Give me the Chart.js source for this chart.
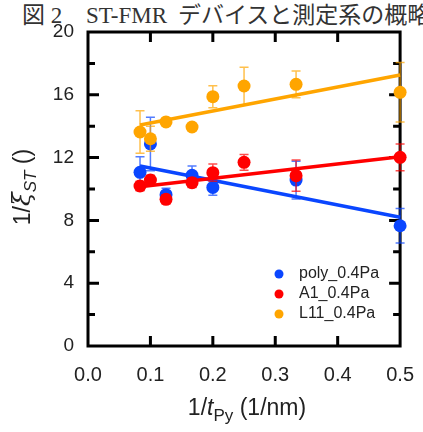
<!DOCTYPE html>
<html>
<head>
<meta charset="utf-8">
<script src="https://cdn.jsdelivr.net/npm/chart.js@4"></script>
<style>
  html, body { margin: 0; padding: 0; background: #fff; }
  #wrap { position: relative; width: 423px; height: 432px; overflow: hidden; }
  .cap {
    position: absolute; top: 3px; white-space: nowrap;
    font-family: "Liberation Serif", "Noto Sans CJK JP", serif;
    font-size: 23px; line-height: 26px; color: #333; z-index: 0;
  }
  canvas { position: absolute; left: 0; top: 0; z-index: 1; }
</style>
</head>
<body>
<div id="wrap">
  <span class="cap" style="left:22px">図 2</span>
  <span class="cap" style="left:86px">ST-FMR</span>
  <span class="cap" style="left:178px">デバイスと測定系の概略</span>
  <canvas id="chart" width="423" height="432"></canvas>
</div>
<script>
// データ
const polyX = [1/12, 0.1, 0.125, 1/6, 0.2, 1/3, 0.5];
const polyY = [11.06, 12.87, 9.64, 10.87, 10.1, 10.57, 7.66];
const polyErr = [1.0, 1.7, 0.4, 0.6, 0.5, 1.2, 1.1];

const a1X = [1/12, 0.1, 0.125, 1/6, 0.2, 0.25, 1/3, 0.5];
const a1Y = [10.19, 10.57, 9.34, 10.4, 11.04, 11.7, 10.85, 12.02];
const a1Err = [0.3, 0.3, 0.3, 0.3, 0.55, 0.5, 1.0, 0.85];

const l11X = [1/12, 0.1, 0.125, 1/6, 0.2, 0.25, 1/3, 0.5];
const l11Y = [13.63, 13.2, 14.27, 13.95, 15.88, 16.56, 16.67, 16.16];
const l11Err = [1.35, 0.8, 0.2, 0.2, 0.7, 1.2, 0.85, 1.9];

// フィット直線 (端点)
const fitX = [1/12, 0.5];
const polyFit = [11.46, 8.2];
const a1Fit = [10.15, 12.06];
const l11Fit = [14.08, 17.26];

const seriesNames = ["poly_0.4Pa", "A1_0.4Pa", "L11_0.4Pa"];
const seriesColors = ["#0a46ff", "#ff0000", "#ffa500"];

const xTicks = [0, 0.1, 0.2, 0.3, 0.4, 0.5];
const yTicks = [0, 4, 8, 12, 16, 20];
const yMinor = [2, 6, 10, 14, 18];

const toPts = (xs, ys) => xs.map((x, i) => ({ x: x, y: ys[i] }));

function pointSet(i, xs, ys, errs, order) {
  return {
    label: seriesNames[i],
    data: toPts(xs, ys),
    errors: errs,
    showLine: false,
    clip: false,
    pointRadius: 6.5,
    pointHoverRadius: 6.5,
    backgroundColor: seriesColors[i],
    borderColor: seriesColors[i],
    borderWidth: 0,
    order: order
  };
}

function fitSet(i, ys, order) {
  return {
    label: seriesNames[i] + " fit",
    data: toPts(fitX, ys),
    showLine: true,
    clip: false,
    pointRadius: 0,
    borderColor: seriesColors[i],
    borderWidth: 3.5,
    fill: false,
    order: order
  };
}

// エラーバー
const errorBars = {
  id: "errorBars",
  beforeDatasetDraw(chart, args) {
    const ds = chart.data.datasets[args.index];
    if (!ds.errors) return;
    const { ctx, scales: { x, y } } = chart;
    ctx.save();
    ctx.strokeStyle = ds.borderColor;
    ctx.globalAlpha = 0.7;
    ctx.lineWidth = 1.5;
    ds.data.forEach((p, i) => {
      const e = ds.errors[i];
      const px = x.getPixelForValue(p.x);
      const top = y.getPixelForValue(p.y + e);
      const bot = y.getPixelForValue(p.y - e);
      ctx.beginPath();
      ctx.moveTo(px, top); ctx.lineTo(px, bot);
      ctx.moveTo(px - 4.5, top); ctx.lineTo(px + 4.5, top);
      ctx.moveTo(px - 4.5, bot); ctx.lineTo(px + 4.5, bot);
      ctx.stroke();
    });
    ctx.restore();
  }
};

// 枠・内向き目盛り (データの下に描く)
const frame = {
  id: "frame",
  beforeDatasetsDraw(chart) {
    const { ctx, chartArea: a, scales: { x, y } } = chart;
    ctx.save();
    ctx.strokeStyle = "#000";
    ctx.lineWidth = 3;
    ctx.strokeRect(a.left, a.top, a.right - a.left, a.bottom - a.top);
    ctx.beginPath();
    xTicks.slice(1, -1).forEach(v => {
      const px = x.getPixelForValue(v);
      ctx.moveTo(px, a.bottom); ctx.lineTo(px, a.bottom - 10);
      ctx.moveTo(px, a.top); ctx.lineTo(px, a.top + 10);
    });
    yTicks.slice(1, -1).forEach(v => {
      const py = y.getPixelForValue(v);
      ctx.moveTo(a.left, py); ctx.lineTo(a.left + 11, py);
      ctx.moveTo(a.right, py); ctx.lineTo(a.right - 11, py);
    });
    yMinor.forEach(v => {
      const py = y.getPixelForValue(v);
      ctx.moveTo(a.left, py); ctx.lineTo(a.left + 7, py);
      ctx.moveTo(a.right, py); ctx.lineTo(a.right - 7, py);
    });
    ctx.stroke();
    ctx.restore();
  }
};

// 軸タイトル・凡例
const labels = {
  id: "labels",
  afterDraw(chart) {
    const ctx = chart.ctx;
    ctx.save();
    ctx.fillStyle = "#222";
    ctx.textBaseline = "alphabetic";
    ctx.textAlign = "left";
    const big = "23px Arial, 'Liberation Sans'";
    const bigI = "italic 23px Arial, 'Liberation Sans'";
    const sub = "17px Arial, 'Liberation Sans'";
    const subI = "italic 17px Arial, 'Liberation Sans'";
    const drawParts = (parts, cx, base) => {
      let w = 0;
      parts.forEach(p => { ctx.font = p[1]; w += ctx.measureText(p[0]).width; });
      let px = cx - w / 2;
      parts.forEach(p => {
        ctx.font = p[1];
        ctx.fillText(p[0], px, base + p[2]);
        px += ctx.measureText(p[0]).width;
      });
    };

    // x 軸タイトル
    drawParts([["1/", big, 0], ["t", bigI, 0], ["Py", sub, 6], [" (1/nm)", big, 0]], 247, 415);

    // y 軸タイトル
    ctx.save();
    ctx.translate(30, 187);
    ctx.rotate(-Math.PI / 2);
    drawParts([["1/", big, 0], ["\u03BE", "italic 25px 'DejaVu Serif', serif", 0], ["ST", subI, 6], [" ()", big, 0]], 0, 0);
    ctx.restore();

    // 凡例
    ctx.font = "16px Arial, 'Liberation Sans'";
    ctx.textBaseline = "middle";
    seriesNames.forEach((n, i) => {
      const ly = 274 + i * 20;
      ctx.fillStyle = seriesColors[i];
      ctx.beginPath();
      ctx.arc(279, ly, 4.5, 0, Math.PI * 2);
      ctx.fill();
      ctx.fillStyle = "#222";
      ctx.fillText(n, 299, ly);
    });
    ctx.restore();
  }
};

const chart = new Chart(document.getElementById("chart"), {
  type: "scatter",
  data: {
    datasets: [
      pointSet(0, polyX, polyY, polyErr, 6),
      fitSet(0, polyFit, 5),
      pointSet(1, a1X, a1Y, a1Err, 4),
      fitSet(1, a1Fit, 3),
      pointSet(2, l11X, l11Y, l11Err, 2),
      fitSet(2, l11Fit, 1)
    ]
  },
  options: {
    responsive: false,
    animation: false,
    layout: { padding: { left: 0, top: 32, right: 19, bottom: 0 } },
    plugins: { legend: { display: false }, tooltip: { enabled: false } },
    scales: {
      x: {
        type: "linear", min: 0, max: 0.5,
        grid: { display: false }, border: { display: false },
        afterFit: s => { s.height = 86; },
        afterBuildTicks: s => { s.ticks = xTicks.map(v => ({ value: v })); },
        ticks: {
          padding: 9, color: "#222",
          font: { family: "Arial, 'Liberation Sans'", size: 20 },
          callback: v => v.toFixed(1)
        }
      },
      y: {
        type: "linear", min: 0, max: 20,
        grid: { display: false }, border: { display: false },
        afterFit: s => { s.width = 88; },
        afterBuildTicks: s => { s.ticks = yTicks.map(v => ({ value: v })); },
        ticks: {
          padding: 6, color: "#222",
          font: { family: "Arial, 'Liberation Sans'", size: 19 },
          callback: v => String(v)
        }
      }
    }
  },
  plugins: [errorBars, frame, labels]
});
</script>
</body>
</html>
